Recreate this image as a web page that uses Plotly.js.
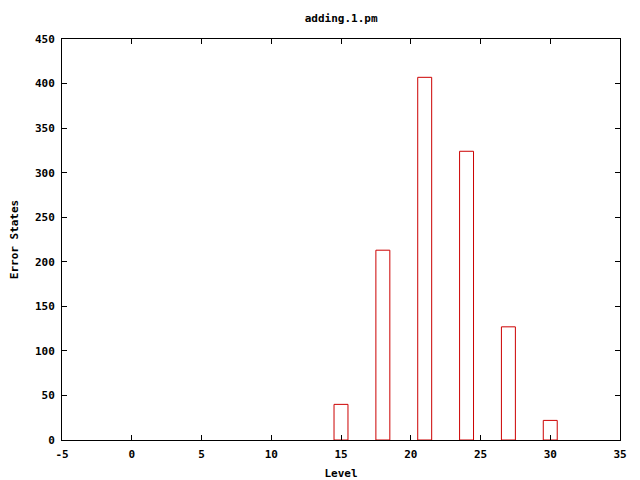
<!DOCTYPE html>
<html>
<head>
<meta charset="utf-8">
<script src="https://cdn.plot.ly/plotly-3.0.1.min.js"></script>
<style>html,body{margin:0;padding:0;background:#fff;}#chart{width:640px;height:480px;}</style>
</head>
<body>
<div id="chart"></div>
<script>
const levels = [15, 18, 21, 24, 27, 30];
const errorStates = [40, 213, 407, 324, 127, 22];
const xTicks = [-5, 0, 5, 10, 15, 20, 25, 30, 35];
const yTicks = [0, 50, 100, 150, 200, 250, 300, 350, 400, 450];

const font = {family: 'DejaVu Sans Mono, monospace', size: 11, color: '#000'};
const boldFont = {family: 'DejaVu Sans Mono, monospace', size: 11, color: '#000', weight: 'bold'};

const trace = {
  type: 'bar',
  x: levels,
  y: errorStates,
  width: 1,
  marker: {color: '#ffffff', line: {color: '#cc0000', width: 1}},
  hoverinfo: 'none'
};

const axisCommon = {
  showline: true, linecolor: '#000', linewidth: 1, mirror: 'ticks',
  ticks: 'inside', ticklen: 5, tickcolor: '#000', tickwidth: 1,
  showgrid: false, zeroline: false,
  tickfont: boldFont
};

const layout = {
  width: 640, height: 480,
  margin: {l: 62, r: 20, t: 39, b: 40},
  paper_bgcolor: '#fff', plot_bgcolor: '#fff',
  font: font,
  showlegend: false,
  title: {text: 'adding.1.pm', font: boldFont, x: 0.533, xanchor: 'center', y: 0.962, yanchor: 'middle'},
  xaxis: Object.assign({}, axisCommon, {
    range: [-5, 35], tickvals: xTicks, ticktext: xTicks.map(String),
    ticklabelstandoff: 4,
    title: {text: 'Level', standoff: 10, font: boldFont}
  }),
  yaxis: Object.assign({}, axisCommon, {
    range: [0, 450], tickvals: yTicks, ticktext: yTicks.map(String),
    ticklabelstandoff: 4,
    title: {text: 'Error States', standoff: 14, font: boldFont}
  })
};

Plotly.newPlot('chart', [trace], layout, {staticPlot: true, displayModeBar: false});
</script>
</body>
</html>
